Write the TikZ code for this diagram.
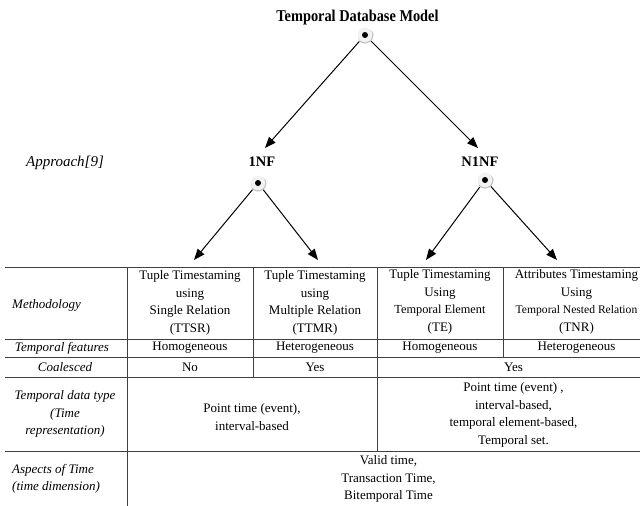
\documentclass[tikz,border=0pt]{standalone}
\usepackage{fontspec}
\setmainfont{Liberation Serif}
\newfontfamily\condfont[FakeStretch=0.87]{Liberation Serif}
\usetikzlibrary{arrows.meta}
\begin{document}
\begin{tikzpicture}[x=1pt,y=-1pt,
  cell/.style={align=center, inner sep=0pt, font=\fontsize{13}{17.5}\selectfont},
  lab/.style={align=center, inner sep=0pt, font=\fontsize{13}{17.5}\selectfont\itshape},
  labl/.style={align=left, inner sep=0pt, anchor=west, font=\fontsize{13}{17.5}\selectfont\itshape},
  head/.style={inner sep=0pt, font=\condfont\bfseries\fontsize{16.5}{18}\selectfont},
  sub/.style={inner sep=0pt, font=\bfseries\fontsize{14.5}{16}\selectfont},
  dotnode/.style={circle, minimum size=17pt, inner sep=0pt, path picture={
     \fill[gray!50] ([xshift=1.2pt,yshift=-1.8pt]path picture bounding box.center) circle (8pt);
     \fill[gray!10] (path picture bounding box.center) circle (7.3pt);
     \fill[black] (path picture bounding box.center) circle (3pt);}},
  arr/.style={line width=1pt, -{Triangle[length=11pt,width=8.5pt]}},
  grid/.style={line width=0.9pt, draw=black!75}
]
\useasboundingbox (0,0) rectangle (640,506);
\clip (0,0) rectangle (640,506);
\fill[white] (0,0) rectangle (640,506);

% tree
\node[head] (title) at (357.5,18) {Temporal Database Model};
\node[dotnode] (top) at (365,35) {};
\node[lab, font=\fontsize{15}{17}\selectfont\itshape] (approach) at (65,163) {Approach[9]};
\node[sub] (onf) at (262,162) {1NF};
\node[sub] (nonf) at (480,162) {N1NF};
\node[dotnode] (dl) at (258,183) {};
\node[dotnode] (dr) at (485,180) {};
\coordinate (tl) at (265,148);
\coordinate (tr) at (478,148);
\coordinate (b1) at (194,260);
\coordinate (b2) at (318,260);
\coordinate (b3) at (426,260);
\coordinate (b4) at (557,260);
\draw[arr] (top) -- (tl);
\draw[arr] (top) -- (tr);
\draw[arr] (dl) -- (b1);
\draw[arr] (dl) -- (b2);
\draw[arr] (dr) -- (b3);
\draw[arr] (dr) -- (b4);

% table grid
\draw[grid] (5,267) -- (640,267);
\draw[grid] (5,339) -- (640,339);
\draw[grid] (5,357) -- (640,357);
\draw[grid] (5,377) -- (640,377);
\draw[grid] (5,451) -- (640,451);
\draw[grid] (127,267) -- (127,506);
\draw[grid] (253,267) -- (253,377);
\draw[grid] (377,267) -- (377,451);
\draw[grid] (503,267) -- (503,357);

% row labels
\node[labl] (lmeth) at (12,305) {Methodology};
\node[lab] (lfeat) at (62,348) {Temporal features};
\node[lab] (lcoal) at (65,367) {Coalesced};
\node[lab] (ltype) at (65,414) {Temporal data type\\(Time\\representation)};
\node[labl] (lasp) at (12,479) {Aspects of Time\\(time dimension)};

% methodology
\node[cell] (m1) at (190,303) {Tuple Timestaming\\using\\Single Relation\\(TTSR)};
\node[cell] (m2) at (315,303) {Tuple Timestaming\\using\\Multiple Relation\\(TTMR)};
\node[cell] (m3) at (440,302) {Tuple Timestaming\\Using\\{\fontsize{12.3}{17.5}\selectfont Temporal Element}\\(TE)};
\node[cell] (m4) at (576.5,302) {Attributes Timestaming\\Using\\{\fontsize{11.6}{17.5}\selectfont Temporal Nested Relation}\\(TNR)};

% features
\node[cell] (f1) at (190,348) {Homogeneous};
\node[cell] (f2) at (315,348) {Heterogeneous};
\node[cell] (f3) at (440,348) {Homogeneous};
\node[cell] (f4) at (576.5,348) {Heterogeneous};

% coalesced
\node[cell] (c1) at (190,367) {No};
\node[cell] (c2) at (315,367) {Yes};
\node[cell] (c3) at (513.5,367) {Yes};

% data type
\node[cell] (t1) at (252,417) {Point time (event),\\interval-based};
\node[cell] (t2) at (513.5,415) {Point time (event) ,\\interval-based,\\temporal element-based,\\Temporal set.};

% aspects
\node[cell] (a1) at (388.5,479) {Valid time,\\Transaction Time,\\Bitemporal Time};
\end{tikzpicture}
\end{document}
